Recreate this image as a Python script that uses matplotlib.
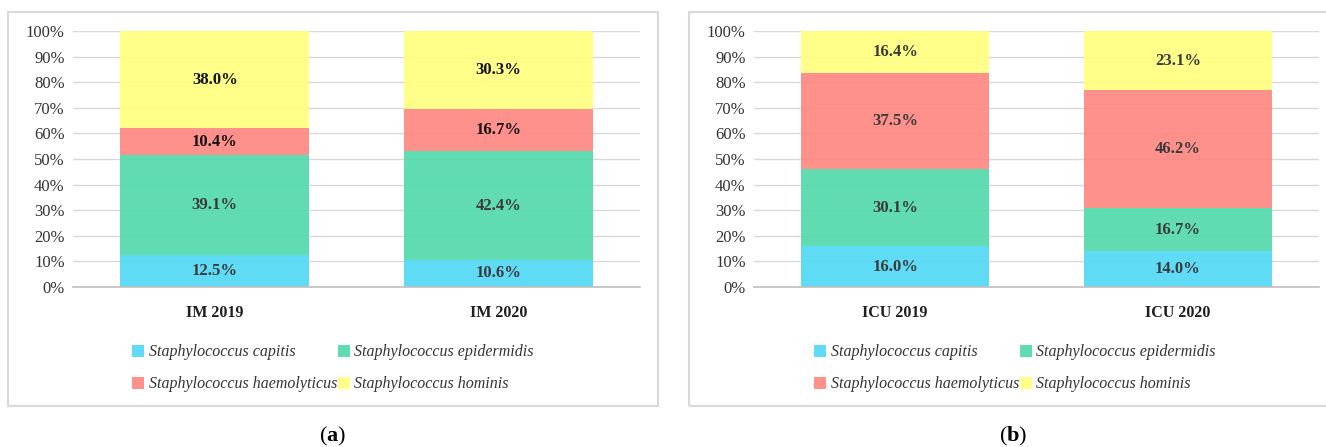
import matplotlib
matplotlib.use("Agg")
import matplotlib.pyplot as plt
import numpy as np
from matplotlib.patches import Rectangle, Patch
from matplotlib.ticker import FuncFormatter

plt.rcParams['font.family'] = ['Liberation Serif', 'DejaVu Serif']
plt.rcParams['mathtext.fontset'] = 'custom'
plt.rcParams['mathtext.rm'] = 'Liberation Serif'
plt.rcParams['mathtext.bf'] = 'Liberation Serif:bold'

species = ["Staphylococcus capitis", "Staphylococcus epidermidis",
           "Staphylococcus haemolyticus", "Staphylococcus hominis"]
colors = ["#4FD8F6", "#50D9AA", "#FF8581", "#FFFF7C"]

im_categories = ["IM 2019", "IM 2020"]
im_capitis = [12.5, 10.6]
im_epidermidis = [39.1, 42.4]
im_haemolyticus = [10.4, 16.7]
im_hominis = [38.0, 30.3]

icu_categories = ["ICU 2019", "ICU 2020"]
icu_capitis = [16.0, 14.0]
icu_epidermidis = [30.1, 16.7]
icu_haemolyticus = [37.5, 46.2]
icu_hominis = [16.4, 23.1]

W, H = 1326, 447
fig = plt.figure(figsize=(W / 100, H / 100), dpi=100)


def fx(px):
    return px / W


def fy(py):
    return 1 - py / H


def panel(ax_rect, cats, series, label_colors):
    ax = fig.add_axes(ax_rect)
    x = np.arange(len(cats))
    bottom = np.zeros(len(cats))
    for vals, col, lc, name in zip(series, colors, label_colors, species):
        vals = np.array(vals)
        ax.bar(x, vals, 0.665, bottom=bottom, color=col, alpha=0.9,
               zorder=2, label=name, linewidth=0)
        for xi, b, v in zip(x, bottom, vals):
            ax.text(xi, b + v / 2, f"{v:.1f}%", ha="center", va="center",
                    fontsize=12, fontweight="bold", color=lc, zorder=4)
        bottom += vals
    ax.set_xlim(-0.5, 1.5)
    ax.set_ylim(0, 100)
    ax.set_yticks(np.arange(0, 101, 10))
    ax.yaxis.set_major_formatter(FuncFormatter(lambda v, p: f"{v:.0f}%"))
    ax.grid(axis="y", color="#D9D9D9", linewidth=1.0, zorder=1)
    ax.set_axisbelow(True)
    for s in ["top", "right", "left"]:
        ax.spines[s].set_visible(False)
    ax.spines["bottom"].set_color("#BFBFBF")
    ax.spines["bottom"].set_linewidth(1.2)
    ax.set_xticks(x)
    ax.set_xticklabels(cats, fontsize=11.5, fontweight="bold", color="#1f1f1f")
    ax.tick_params(axis="both", length=0)
    ax.tick_params(axis="y", labelsize=12, labelcolor="#333333", pad=6)
    ax.tick_params(axis="x", pad=13)
    handles, labels = ax.get_legend_handles_labels()
    order = [0, 2, 1, 3]
    leg = ax.legend([Patch(facecolor=colors[i], alpha=0.9) for i in order],
                    [labels[i] for i in order], ncol=2, frameon=False,
                    loc="upper left", bbox_to_anchor=(0.0, -0.17),
                    prop={"style": "italic", "size": 11.5},
                    handlelength=0.75, handleheight=0.75, handletextpad=0.3,
                    columnspacing=0.0, labelspacing=1.0,
                    labelcolor="#333333")
    return ax, leg


ax1, leg1 = panel([fx(73), fy(287), fx(640) - fx(73), fy(31) - fy(287)],
                  im_categories,
                  [im_capitis, im_epidermidis, im_haemolyticus, im_hominis],
                  ["#3a3a3a", "#3a3a3a", "#111111", "#111111"])
ax2, leg2 = panel([fx(754), fy(287), fx(1319) - fx(754), fy(31) - fy(287)],
                  icu_categories,
                  [icu_capitis, icu_epidermidis, icu_haemolyticus, icu_hominis],
                  ["#3a3a3a", "#3a3a3a", "#3a3a3a", "#3a3a3a"])

# position legends in figure pixels
leg1.set_bbox_to_anchor((fx(118), fy(330)), transform=fig.transFigure)
leg2.set_bbox_to_anchor((fx(800), fy(330)), transform=fig.transFigure)

# panel frames
for x0, x1 in [(8, 658), (689, 1330)]:
    fig.patches.append(Rectangle((fx(x0), fy(406)), fx(x1) - fx(x0),
                                 fy(12) - fy(406), transform=fig.transFigure,
                                 fill=False, edgecolor="#D9D9D9",
                                 linewidth=1.5, zorder=0))

fig.text(fx(333), fy(436), r"$\mathrm{(}\mathbf{a}\mathrm{)}$", ha="center",
         va="center", fontsize=16, color="#000000")
fig.text(fx(1013), fy(436), r"$\mathrm{(}\mathbf{b}\mathrm{)}$", ha="center",
         va="center", fontsize=16, color="#000000")

fig.savefig("out.png", dpi=100)
